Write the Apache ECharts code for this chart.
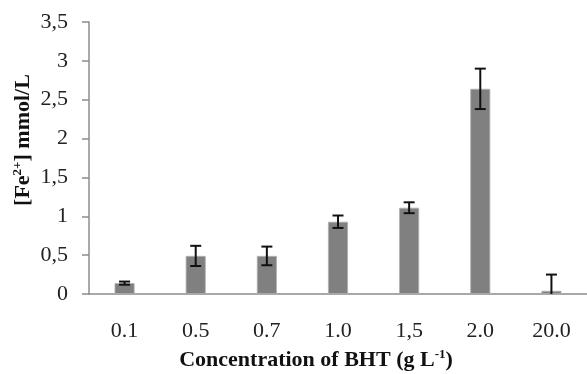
<!DOCTYPE html>
<html>
<head>
<meta charset="utf-8">
<script src="https://cdn.jsdelivr.net/npm/echarts@6/dist/echarts.min.js"></script>
<style>
html,body{margin:0;padding:0;background:#fff;}
#main{width:587px;height:374px;}
</style>
</head>
<body>
<div id="main"></div>
<script>
var categories = ['0.1', '0.5', '0.7', '1.0', '1,5', '2.0', '20.0'];
var values = [0.14, 0.49, 0.49, 0.93, 1.11, 2.64, 0.04];
var errors = [0.02, 0.13, 0.12, 0.08, 0.07, 0.26, 0.21];
var yTicks = ['0', '0,5', '1', '1,5', '2', '2,5', '3', '3,5'];

var errData = values.map(function (v, i) { return [i, v - errors[i], v + errors[i]]; });

var chart = echarts.init(document.getElementById('main'));
var serif = '"Liberation Serif","Times New Roman",serif';
chart.setOption({
  animation: false,
  grid: { left: 89, top: 22, width: 500, height: 272 },
  xAxis: {
    type: 'category',
    data: categories,
    axisLine: { lineStyle: { color: '#8c8c8c', width: 1.5 } },
    axisTick: { show: false },
    axisLabel: { color: '#222', fontFamily: serif, fontSize: 22, margin: 26 }
  },
  yAxis: {
    type: 'value',
    min: 0, max: 3.5, interval: 0.5,
    splitLine: { show: false },
    axisLine: { show: true, lineStyle: { color: '#8c8c8c', width: 1.5 } },
    axisTick: { show: true, length: 7, lineStyle: { color: '#8c8c8c', width: 1.5 } },
    axisLabel: {
      color: '#222', fontFamily: serif, fontSize: 22, margin: 21,
      formatter: function (v) { return yTicks[Math.round(v / 0.5)]; }
    }
  },
  series: [
    {
      type: 'bar',
      data: values,
      barWidth: 20,
      itemStyle: { color: '#808080', borderColor: '#b0b0b0', borderWidth: 0.8 }
    },
    {
      type: 'custom',
      data: errData,
      clip: true,
      z: 5,
      renderItem: function (params, api) {
        var x = api.value(0);
        var lo = api.coord([x, api.value(1)]);
        var hi = api.coord([x, api.value(2)]);
        var w = 5.5;
        var st = { stroke: '#111', lineWidth: 2 };
        return {
          type: 'group',
          children: [
            { type: 'line', shape: { x1: hi[0], y1: hi[1], x2: lo[0], y2: lo[1] }, style: st },
            { type: 'line', shape: { x1: hi[0] - w, y1: hi[1], x2: hi[0] + w, y2: hi[1] }, style: st },
            { type: 'line', shape: { x1: lo[0] - w, y1: lo[1], x2: lo[0] + w, y2: lo[1] }, style: st }
          ]
        };
      }
    }
  ],
  graphic: [
    {
      type: 'text',
      x: 23, y: 140,
      rotation: Math.PI / 2,
      style: {
        text: '{a|[Fe}{s|2+}{a|] mmol/L}',
        align: 'center', verticalAlign: 'middle',
        rich: {
          a: { fontFamily: serif, fontWeight: 'bold', fontSize: 22, fill: '#111' },
          s: { fontFamily: serif, fontWeight: 'bold', fontSize: 13, fill: '#111', padding: [0, 0, 10, 0] }
        }
      }
    },
    {
      type: 'text',
      x: 316, y: 360,
      style: {
        text: '{a|Concentration of BHT (g L}{s|-1}{a|)}',
        align: 'center', verticalAlign: 'middle',
        rich: {
          a: { fontFamily: serif, fontWeight: 'bold', fontSize: 22, fill: '#111' },
          s: { fontFamily: serif, fontWeight: 'bold', fontSize: 13, fill: '#111', padding: [0, 0, 10, 0] }
        }
      }
    }
  ]
});
</script>
</body>
</html>
